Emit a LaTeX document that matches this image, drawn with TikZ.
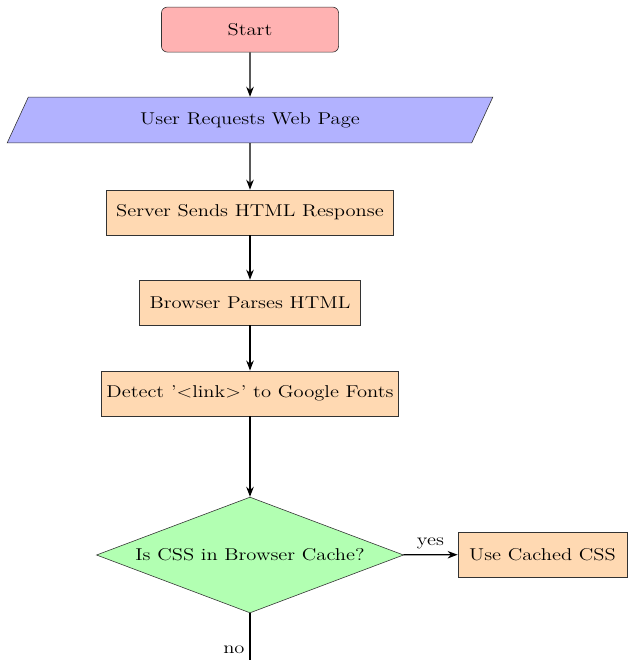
\documentclass[tikz,border=0pt]{standalone}
\usepackage{fontspec}
\setmainfont{Latin Modern Roman}[FakeStretch=1.2]
\usepackage{tikz}
\usetikzlibrary{shapes.geometric,arrows.meta}

\begin{document}
\begin{tikzpicture}[
  font=\fontsize{11.7}{14}\selectfont,
  startstop/.style={rectangle, rounded corners, draw=black!80, fill=red!30, minimum width=4.25cm, minimum height=1.08cm},
  io/.style={trapezium, trapezium left angle=66.5, trapezium right angle=113.5, trapezium stretches=true, draw=black!80, fill=blue!30, minimum width=11.66cm, minimum height=1.1cm},
  process/.style={rectangle, draw=black!80, fill=orange!30, minimum height=1.08cm},
  decision/.style={diamond, aspect=2.65, draw=black!80, fill=green!30, minimum width=7.37cm, minimum height=2.78cm, inner sep=0pt},
  arrow/.style={thick, -{Stealth[length=2.4mm]}}
]
\useasboundingbox (0,0) rectangle (15.096,-15.84);

\node (start) [startstop] at (6.0,-0.71) {Start};
\node (request) [io] at (6.0,-2.88) {User Requests Web Page};
\node (server) [process, minimum width=6.89cm] at (6.0,-5.1) {Server Sends HTML Response};
\node (parse) [process, minimum width=5.3cm] at (6.0,-7.26) {Browser Parses HTML};
\node (detect) [process, minimum width=7.13cm] at (6.0,-9.44) {Detect '<link>' to Google Fonts};
\node (cache) [decision] at (6.0,-13.32) {Is CSS in Browser Cache?};
\node (cached) [process, minimum width=4.06cm] at (13.02,-13.31) {Use Cached CSS};
\coordinate (down) at (6.0,-15.84);

\draw [arrow] (start) -- (request);
\draw [arrow] (request) -- (server);
\draw [arrow] (server) -- (parse);
\draw [arrow] (parse) -- (detect);
\draw [arrow] (detect) -- (cache);
\draw [arrow] (cache) -- node[above] {yes} (cached);
\draw [thick] (cache) -- node[pos=0.79, left] {no} (down);
\end{tikzpicture}
\end{document}
